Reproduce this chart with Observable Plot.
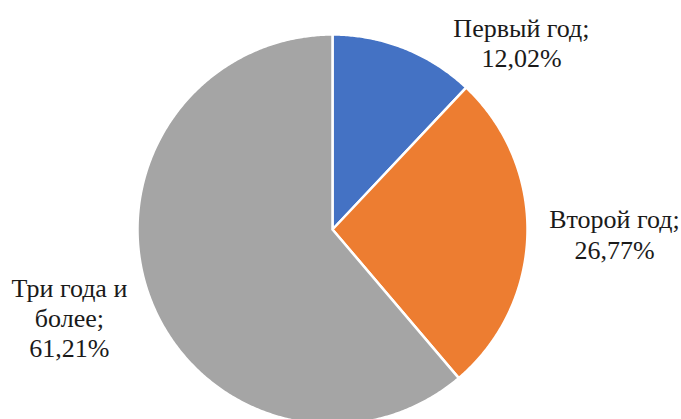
<!DOCTYPE html>
<html lang="ru">
<head>
<meta charset="utf-8">
<script src="https://cdn.jsdelivr.net/npm/d3@7"></script>
<script src="https://cdn.jsdelivr.net/npm/@observablehq/plot@0.6"></script>
<style>
  html, body { margin: 0; padding: 0; background: #fff; font-family: "Liberation Serif", "Times New Roman", serif; }
  #chart { width: 681px; height: 419px; }
</style>
</head>
<body>
<div id="chart"></div>
<script>
// Data
const categories = ["Первый год", "Второй год", "Три года и более"];
const values = [12.02, 26.77, 61.21];
const labels = ["Первый год;\n12,02%", "Второй год;\n26,77%", "Три года и\nболее;\n61,21%"];
const colors = ["#4472C4", "#ED7D31", "#A5A5A5"];

// Layout (label anchor points in pie-radius units; baseline of last line)
const labelX = [0.969, 1.446, -1.349];
const labelY = [0.831, -0.149, -0.656];

// Slice outlines built from the values (angles from d3.pie, clockwise from top)
const arcs = d3.pie().sort(null).value(d => d)(values);
const slicePoints = [];
arcs.forEach((a, i) => {
  const cat = categories[i];
  slicePoints.push({cat, x: 0, y: 0});
  const n = Math.max(2, Math.ceil((a.endAngle - a.startAngle) / (Math.PI / 360)));
  for (let k = 0; k <= n; k++) {
    const t = a.startAngle + (a.endAngle - a.startAngle) * k / n;
    slicePoints.push({cat, x: Math.sin(t), y: Math.cos(t)});
  }
  slicePoints.push({cat, x: 0, y: 0});
});

const labelData = categories.map((c, i) => ({label: labels[i], lx: labelX[i], ly: labelY[i]}));

const serif = "Liberation Serif, Times New Roman, DejaVu Serif, serif";
const cx = 332, cy = 229, r = 195;
const chart = Plot.plot({
  width: 681,
  height: 419,
  margin: 0,
  style: {overflow: "hidden", fontFamily: serif},
  x: {domain: [-1, 1], range: [cx - r, cx + r], axis: null},
  y: {domain: [-1, 1], range: [cy + r, cy - r], axis: null},
  color: {domain: categories, range: colors},
  marks: [
    Plot.line(slicePoints, {x: "x", y: "y", z: "cat", fill: "cat", stroke: "white", strokeWidth: 2.5, strokeLinejoin: "round"}),
    Plot.text(labelData, {
      x: "lx", y: "ly", text: "label",
      textAnchor: "middle", lineAnchor: "bottom", lineHeight: 1.17,
      fontFamily: serif, fontSize: 26, fill: "#1a1a1a"
    })
  ]
});
chart.setAttribute("font-family", serif);
chart.querySelectorAll("text, tspan").forEach(t => t.setAttribute("font-family", serif));
document.getElementById("chart").appendChild(chart);
</script>
</body>
</html>
